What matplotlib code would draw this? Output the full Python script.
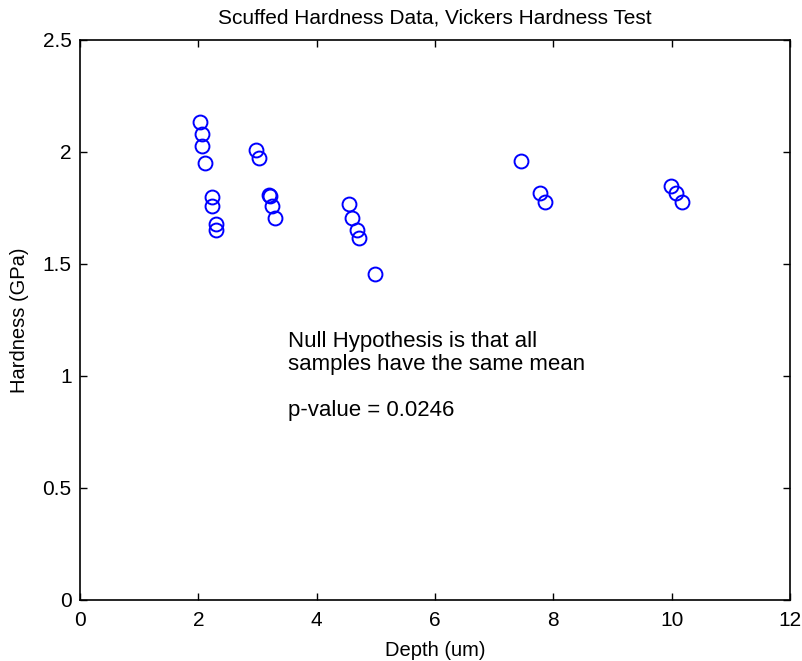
import numpy as np
import matplotlib as mpl
from matplotlib import pyplot as plt

mpl.rcParams['font.family'] = ['Liberation Sans', 'DejaVu Sans']

# profundidad de la indentacion [um]
depth = [2.03, 2.06, 2.07, 2.12, 2.23, 2.23, 2.29, 2.29,
         2.97, 3.03, 3.19, 3.21, 3.25, 3.30,
         4.55, 4.59, 4.68, 4.72, 4.99,
         7.46, 7.77, 7.86,
         9.98, 10.07, 10.17]
# dureza Vickers [GPa]
hardness = [2.134, 2.08, 2.028, 1.95, 1.80, 1.76, 1.677, 1.652,
            2.009, 1.975, 1.81, 1.805, 1.76, 1.705,
            1.766, 1.707, 1.652, 1.617, 1.455,
            1.961, 1.816, 1.778,
            1.85, 1.816, 1.778]

xticks = [0, 2, 4, 6, 8, 10, 12]
yticks = [0, 0.5, 1, 1.5, 2, 2.5]
yticklabels = ['0', '0.5', '1', '1.5', '2', '2.5']

def main():
    fig = plt.figure(figsize=(8.03, 6.61), dpi=100)
    ax = fig.add_axes([0.0996, 0.0923, 0.8844, 0.8472])
    ax.plot(depth, hardness, 'o', mfc='none', mec='#0000ff', ms=10, mew=1.4)

    ax.set_xlim(0, 12)
    ax.set_ylim(0, 2.5)
    ax.set_xticks(xticks)
    ax.set_yticks(yticks)
    ax.set_yticklabels(yticklabels)
    ax.tick_params(direction='in', top=True, right=True, labelsize=15, length=5, width=1)
    ax.tick_params(axis='x', pad=8)
    ax.tick_params(axis='y', pad=6)
    for s in ax.spines.values():
        s.set_linewidth(1.2)

    ax.set_xlabel('Depth (um)', fontsize=14.5, labelpad=8)
    ax.set_ylabel('Hardness (GPa)', fontsize=14.5, labelpad=10)
    ax.set_title('Scuffed Hardness Data, Vickers Hardness Test', fontsize=15, pad=12)

    ax.text(3.52, 1.2, 'Null Hypothesis is that all\nsamples have the same mean\n\np-value = 0.0246',
            fontsize=16, va='top', ha='left', linespacing=1.12)

    fig.savefig('out.png', dpi=100)

if __name__ == '__main__':
    main()
